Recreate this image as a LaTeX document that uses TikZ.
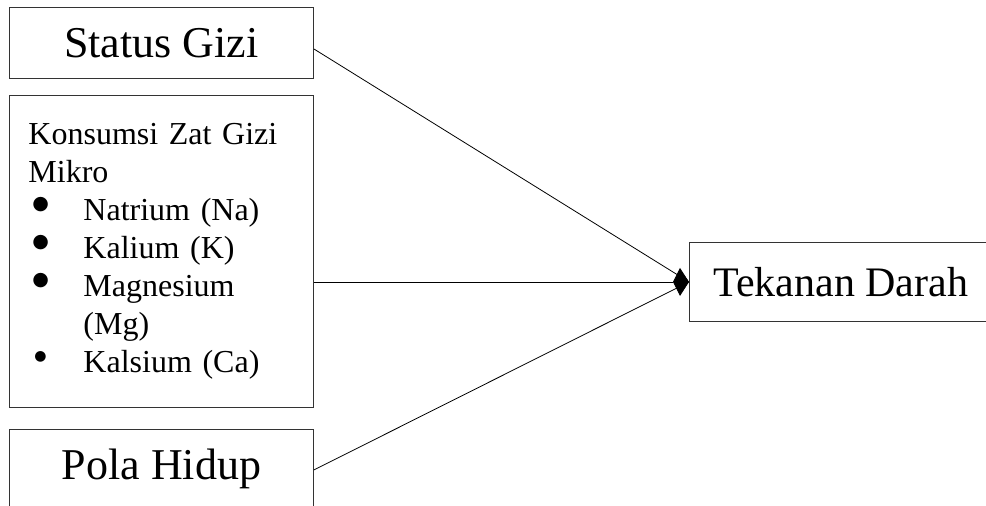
\documentclass[tikz,border=0pt]{standalone}
\usepackage{fontspec}
\setmainfont{Liberation Serif}
\newfontfamily\symfont{DejaVu Sans}
\usetikzlibrary{arrows.meta,calc}
\tikzset{
  box/.style={draw=black!80, line width=0.9pt, rectangle, inner sep=0pt},
  bigtext/.style={font=\fontsize{44}{50}\selectfont},
  conn/.style={draw=black, line width=0.8pt},
}
\newcommand{\blt}{\makebox[55pt][l]{\hspace{4pt}\raisebox{11pt}{\fontsize{19}{19}\symfont ●}}}
\newcommand{\bltsmall}{\makebox[55pt][l]{\hspace{6pt}\raisebox{12pt}{\fontsize{14}{14}\symfont ●}}}
\begin{document}
\begin{tikzpicture}[x=1pt,y=-1pt]
\useasboundingbox (0,0) rectangle (986,506);
\node (status) [box, bigtext, minimum width=304pt, minimum height=71pt, anchor=north west] at (9,7) {Status Gizi};
\node (konsumsi) [box, minimum width=304pt, minimum height=312pt, anchor=north west, text width=266pt, inner xsep=19pt, align=left, font=\fontsize{32}{38}\selectfont] at (9,95)
  {Konsumsi Zat Gizi\\Mikro\\\blt Natrium (Na)\\\blt Kalium (K)\\\blt Magnesium\\\hspace*{55pt}(Mg)\\\bltsmall Kalsium (Ca)\\[-12pt]};
\node (pola) [box, bigtext, minimum width=304pt, minimum height=79pt, anchor=north west] at (9,429) {Pola Hidup};
\node (tekanan) [box, font=\fontsize{42}{48}\selectfont, minimum height=79pt, inner xsep=24pt, anchor=north west] at (689,242) {Tekanan Darah};
\coordinate (s1) at ($(status.east)+(0,6)$);
\coordinate (p1) at ($(pola.east)+(0,1)$);
\draw[conn, -{Stealth[length=10pt,width=8pt]}] (s1) -- (tekanan.west);
\draw[conn, -{Stealth[length=10pt,width=8pt]}] (p1) -- (tekanan.west);
\draw[conn, -{Kite[length=16pt,width=28pt,inset=7pt]}] (konsumsi.east |- tekanan.west) -- (tekanan.west);
\end{tikzpicture}
\end{document}
